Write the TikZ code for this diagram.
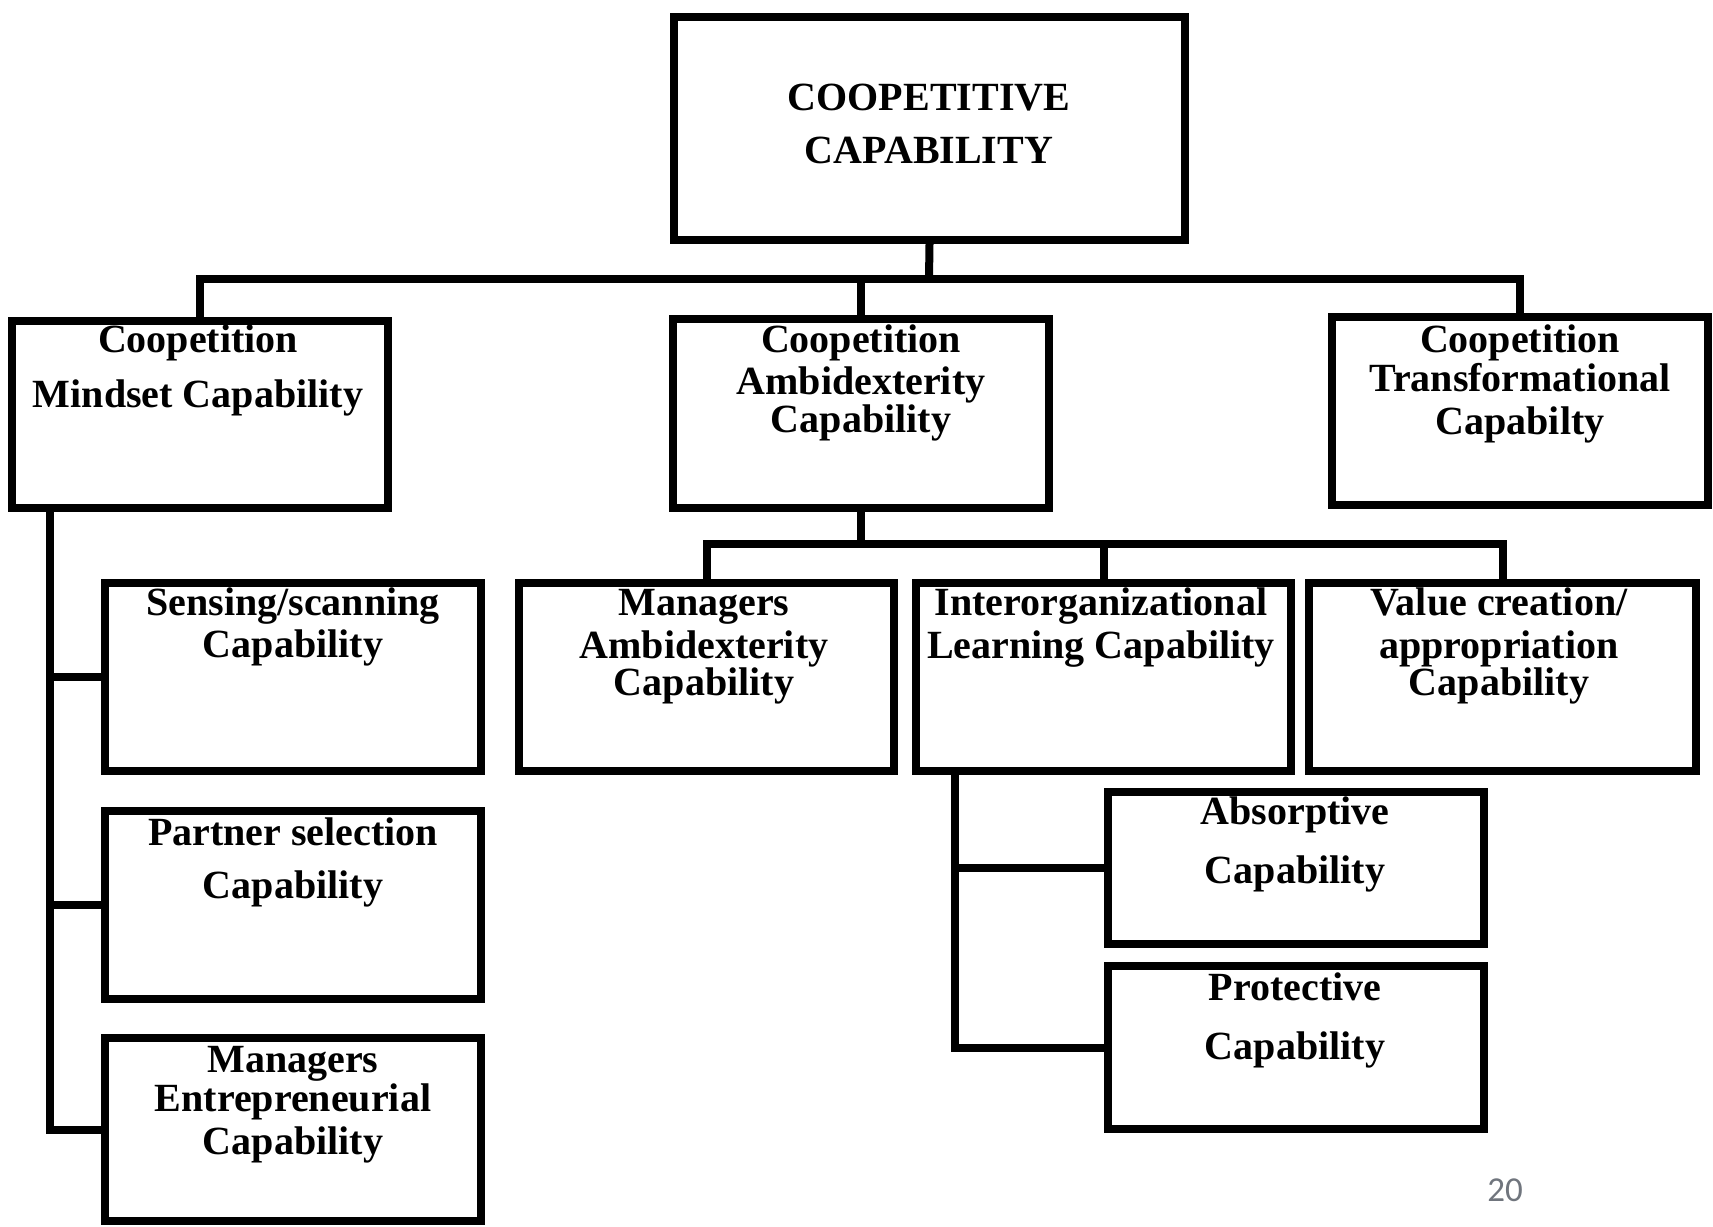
\documentclass[tikz,border=0pt]{standalone}
\usepackage{fontspec}
\setmainfont{Liberation Serif}
\newfontfamily\numfont{Carlito}
\definecolor{numgray}{RGB}{112,117,125}
\begin{document}
\begin{tikzpicture}[x=0.5pt,y=-0.5pt,
  box/.style n args={2}{draw, line width=4pt, line join=miter, inner sep=0pt,
    minimum width=#1*0.5pt, minimum height=#2*0.5pt},
  conn/.style={line width=4pt, line join=miter},
  lbl/.style={font=\bfseries\fontsize{20}{24}\selectfont, anchor=base, inner sep=0pt}]
\useasboundingbox (0,0) rectangle (1713,1226);
% boxes
\node[box={511}{223}] (top)   at (929.5,128.5) {};
\node[box={376}{187}] (mind)  at (200,414.5) {};
\node[box={376}{189}] (amb)   at (861,413.5) {};
\node[box={376}{188}] (trans) at (1520,411) {};
\node[box={376}{188}] (sens)  at (293,677) {};
\node[box={376}{188}] (part)  at (293,905) {};
\node[box={376}{183}] (ment)  at (293,1129.5) {};
\node[box={375}{188}] (mamb)  at (706.5,677) {};
\node[box={375}{188}] (iol)   at (1103.5,677) {};
\node[box={387}{188}] (val)   at (1502.5,677) {};
\node[box={376}{152}] (abs)   at (1296,868) {};
\node[box={376}{163}] (prot)  at (1296,1047.5) {};
% junction coordinates
\coordinate (b1) at (929,279);
\coordinate (b2) at (861,544);
\coordinate (s1) at (50,508);
\coordinate (s2) at (955,771);
% connectors
\draw[conn] (top.south) -- (b1);
\draw[conn] (mind.north) |- (b1) -| (trans.north);
\draw[conn] (amb.north) -- (amb.north |- b1);
\draw[conn] (amb.south) -- (b2);
\draw[conn] (mamb.north) |- (b2) -| (val.north);
\draw[conn] (iol.north) -- (iol.north |- b2);
\draw[conn] (s1) |- (ment.west);
\draw[conn] (s1 |- sens.west) -- (sens.west);
\draw[conn] (s1 |- part.west) -- (part.west);
\draw[conn] (s2) |- (prot.west);
\draw[conn] (s2 |- abs.west) -- (abs.west);
% texts
\node[lbl] (t1) at (929,110) {COOPETITIVE};
\node[lbl] (t2) at (929,163) {CAPABILITY};
\node[lbl] (m1) at (198,352) {Coopetition};
\node[lbl] (m2) at (198,407) {Mindset Capability};
\node[lbl] (a1) at (861,352) {Coopetition};
\node[lbl] (a2) at (861,394) {Ambidexterity};
\node[lbl] (a3) at (861,432) {Capability};
\node[lbl] (r1) at (1520,352) {Coopetition};
\node[lbl] (r2) at (1520,391) {Transformational};
\node[lbl] (r3) at (1520,434) {Capabilty};
\node[lbl] (se1) at (293,615) {Sensing/scanning};
\node[lbl] (se2) at (293,657) {Capability};
\node[lbl] (p1) at (293,845) {Partner selection};
\node[lbl] (p2) at (293,898) {Capability};
\node[lbl] (e1) at (293,1072) {Managers};
\node[lbl] (e2) at (293,1111) {Entrepreneurial};
\node[lbl] (e3) at (293,1154) {Capability};
\node[lbl] (ma1) at (704,615) {Managers};
\node[lbl] (ma2) at (704,658) {Ambidexterity};
\node[lbl] (ma3) at (704,695) {Capability};
\node[lbl] (i1) at (1101,615) {Interorganizational};
\node[lbl] (i2) at (1101,658) {Learning Capability};
\node[lbl] (v1) at (1499,615) {Value creation/};
\node[lbl] (v2) at (1499,658) {appropriation};
\node[lbl] (v3) at (1499,695) {Capability};
\node[lbl] (ab1) at (1295,824) {Absorptive};
\node[lbl] (ab2) at (1295,883) {Capability};
\node[lbl] (pr1) at (1295,1000) {Protective};
\node[lbl] (pr2) at (1295,1059) {Capability};
\node[font=\numfont\fontsize{17.5}{20}\selectfont, text=numgray, inner sep=0pt] (pg) at (1505,1190) {20};
\end{tikzpicture}
\end{document}
